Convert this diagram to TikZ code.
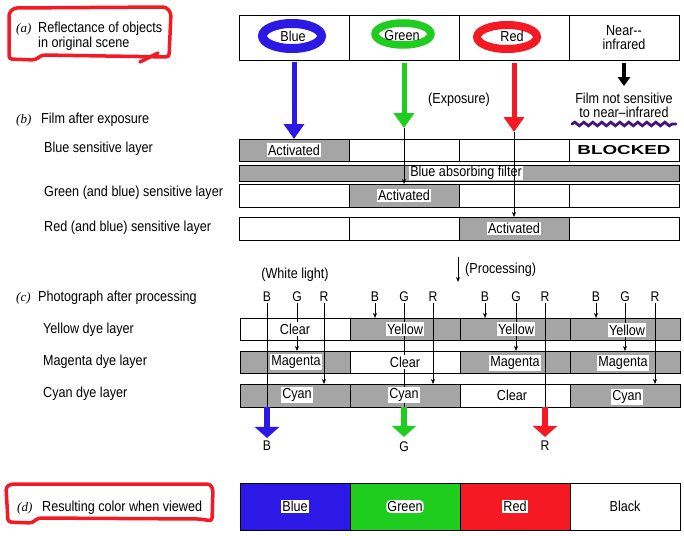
\documentclass[tikz,border=0pt]{standalone}
\usepackage{fontspec}
\setmainfont{Liberation Sans}[FakeStretch=0.87]
\newfontfamily\serifit{Liberation Serif}
\newfontfamily\blkfont{Liberation Sans}
\usetikzlibrary{arrows.meta,decorations.pathmorphing,shapes.geometric}
\definecolor{hblue}{RGB}{45,25,230}
\definecolor{hgreen}{RGB}{30,205,30}
\definecolor{hred}{RGB}{245,25,35}
\definecolor{hpurple}{RGB}{70,20,120}
\definecolor{hshade}{RGB}{165,165,165}
\begin{document}
\begin{tikzpicture}[x=1pt,y=-1pt,
  every node/.style={font=\fontsize{14.5}{14.5}\selectfont},
  cell/.style={draw, line width=0.8pt, inner sep=0pt, outer sep=0pt, anchor=north west, minimum width=110pt},
  shaded/.style={fill=hshade},
  lab/.style={fill=white, inner sep=1.2pt},
  ltext/.style={anchor=west, inner sep=0pt},
  tag/.style={font=\serifit\itshape\fontsize{13}{14}\selectfont, anchor=west, inner sep=0pt},
  ray/.style={line width=0.7pt, -{Stealth[length=5pt,width=4pt]}},
  rayplain/.style={line width=0.7pt},
  fat/.style={line width=5pt, -{Triangle[length=15pt,width=20pt]}},
  fatout/.style={line width=5.5pt, -{Triangle[length=11pt,width=24pt]}},
  fatk/.style={line width=3.2pt, -{Triangle[length=9pt,width=12pt]}},
  hand/.style={line width=3.5pt, line join=round, line cap=round, rounded corners=3pt},
  oval/.style={ellipse, inner sep=0pt},
  bgr/.style={inner sep=1pt, font=\fontsize{14}{14}\selectfont}
]
\useasboundingbox (0,0) rectangle (684,535);

% ---------- (a)
\draw[hand, hred] (9,13) -- (14,8) -- (166,7) -- (171,13) -- (169,57) -- (42,55) -- (35,60) -- (9,59) -- cycle;
\draw[hand, hred] (140,62) -- (158,53);
\node[tag] (ta) at (16,29) {(a)};
\node[ltext, align=left, font=\fontsize{14.5}{15}\selectfont] (la) at (38,36.5) {Reflectance of objects\\in original scene};

\node[cell, minimum height=45pt] (a1) at (239,15) {};
\node[cell, minimum height=45pt] (a2) at (349,15) {};
\node[cell, minimum height=45pt] (a3) at (459,15) {};
\node[cell, minimum height=45pt, align=center, font=\fontsize{14.5}{14}\selectfont] (a4) at (569,15) {Near-{}-\\infrared};

\node[oval, draw=hblue, line width=9pt, minimum width=59pt, minimum height=25pt] (ob) at (292,36) {};
\node (tb) at (293,36) {Blue};
\node[oval, draw=hgreen, line width=7.5pt, minimum width=56pt, minimum height=22pt] (og) at (403,34) {};
\node (tg) at (402,36) {Green};
\node[oval, draw=hred, line width=8pt, minimum width=60pt, minimum height=24pt] (orr) at (507,37) {};
\node (tr) at (512,36) {Red};

% ---------- (b)
\node[tag] (tbb) at (16,120) {(b)};
\node[ltext] (lb) at (41,120) {Film after exposure};
\node[ltext] (lb1) at (44,149) {Blue sensitive layer};
\node[ltext] (lb2) at (44,193) {Green (and blue) sensitive layer};
\node[ltext] (lb3) at (44,228) {Red (and blue) sensitive layer};

\node[cell, shaded, minimum height=22pt] (bb1) at (239,139) {};
\node[cell, minimum height=22pt] (bb2) at (349,139) {};
\node[cell, minimum height=22pt] (bb3) at (459,139) {};
\node[cell, minimum height=22pt] (bb4) at (569,139) {};
\node[cell, shaded, minimum height=16pt, minimum width=440pt] (filt) at (239,165) {};
\node[cell, minimum height=23pt] (bg1) at (239,184) {};
\node[cell, shaded, minimum height=23pt] (bg2) at (349,184) {};
\node[cell, minimum height=23pt] (bg3) at (459,184) {};
\node[cell, minimum height=23pt] (bg4) at (569,184) {};
\node[cell, minimum height=23pt] (br1) at (239,217) {};
\node[cell, minimum height=23pt] (br2) at (349,217) {};
\node[cell, shaded, minimum height=23pt] (br3) at (459,217) {};
\node[cell, minimum height=23pt] (br4) at (569,217) {};

\node[lab] (lact1) at (bb1.center) {Activated};
\node[lab, inner ysep=0.5pt] (lfilt) at (466,173) {Blue absorbing filter};
\node[lab] (lact2) at (bg2.center) {Activated};
\node[lab] (lact3) at (br3.center) {Activated};
\node[font=\blkfont\bfseries\fontsize{13}{13}\selectfont] (blk) at (bb4.center) {\scalebox{1.45}[1]{BLOCKED}};

\coordinate (gk) at (404,128);
\coordinate (rk) at (514,132);
\draw[fat, hblue] ([yshift=-2pt]a1.south) -- (bb1.north);
\draw[fat, hgreen] ([yshift=-3pt]a2.south) -- (gk);
\draw[ray] (gk) -- (bg2.north);
\draw[fat, hred] ([yshift=-3pt]a3.south) -- (rk);
\draw[ray] (rk) -- (br3.north);

\node[align=center, font=\fontsize{14.5}{14}\selectfont] (nir) at (624,105) {Film not sensitive\\to near–infrared};
\draw[fatk] ([yshift=-3pt]a4.south) -- ([yshift=3pt]nir.north);
\coordinate (w1) at (572,124);
\coordinate (w2) at (676,124);
\draw[hpurple, line width=2.8pt, line cap=round, decorate, decoration={snake, amplitude=1.8pt, segment length=9pt}] (w1) -- (w2);
\node (expo) at (459,100) {(Exposure)};

% ---------- (c)
\coordinate (ps) at (458,257);
\coordinate (pe) at (458,282);
\draw[ray] (ps) -- (pe);
\node[ltext] (proc) at (465,270) {(Processing)};
\node (wl) at (295,275) {(White light)};

\node[tag] (tc) at (16,298) {(c)};
\node[ltext] (lc) at (38,298) {Photograph after processing};
\node[ltext] (lc1) at (43,330) {Yellow dye layer};
\node[ltext] (lc2) at (43,362) {Magenta dye layer};
\node[ltext] (lc3) at (43,394) {Cyan dye layer};

\node[cell, minimum height=22pt] (cy1) at (240,318) {};
\node[cell, shaded, minimum height=22pt] (cy2) at (350,318) {};
\node[cell, shaded, minimum height=22pt] (cy3) at (460,318) {};
\node[cell, shaded, minimum height=22pt] (cy4) at (570,318) {};
\node[cell, shaded, minimum height=22pt] (cm1) at (240,351) {};
\node[cell, minimum height=22pt] (cm2) at (350,351) {};
\node[cell, shaded, minimum height=22pt] (cm3) at (460,351) {};
\node[cell, shaded, minimum height=22pt] (cm4) at (570,351) {};
\node[cell, shaded, minimum height=23pt] (cc1) at (240,384) {};
\node[cell, shaded, minimum height=23pt] (cc2) at (350,384) {};
\node[cell, minimum height=23pt] (cc3) at (460,384) {};
\node[cell, shaded, minimum height=23pt] (cc4) at (570,384) {};

\foreach \n/\x/\t in {B1/267/B,G1/297/G,R1/324/R,B2/375/B,G2/404/G,R2/433/R,B3/485/B,G3/516/G,R3/545/R,B4/596/B,G4/625/G,R4/655/R}{
  \node[bgr] (\n) at (\x,297) {\t};
}

% rays
\draw[rayplain] (B1.south) -- (B1 |- cc1.south);
\draw[ray] (G1.south) -- (G1 |- cm1.north);
\draw[ray] (R1.south) -- (R1 |- cc1.north);
\draw[ray] (B2.south) -- (B2 |- cy2.north);
\draw[rayplain] (G2.south) -- (G2 |- cc2.south);
\draw[ray] (R2.south) -- (R2 |- cc2.north);
\draw[ray] (B3.south) -- (B3 |- cy3.north);
\draw[ray] (G3.south) -- (G3 |- cm3.north);
\draw[rayplain] (R3.south) -- (R3 |- cc3.south);
\draw[ray] (B4.south) -- (B4 |- cy4.north);
\draw[ray] (G4.south) -- (G4 |- cm4.north);
\draw[ray] (R4.south) -- (R4 |- cc4.north);

\node[lab] (ly1) at (295,329) {Clear};
\node[lab] (ly2) at (405,329) {Yellow};
\node[lab] (ly3) at (516,329) {Yellow};
\node[lab] (ly4) at (627,330) {Yellow};
\node[lab] (lm1) at (296,362) {Magenta};
\node[lab] (lm2) at (405,362) {Clear};
\node[lab] (lm3) at (515,363) {Magenta};
\node[lab] (lm4) at (623,363) {Magenta};
\node[lab] (lq1) at (297,395) {Cyan};
\node[lab] (lq2) at (404,395) {Cyan};
\node[lab] (lq3) at (512,395) {Clear};
\node[lab] (lq4) at (627,397) {Cyan};

\node[bgr] (Bo) at (267,446) {B};
\node[bgr] (Go) at (404,447) {G};
\node[bgr] (Ro) at (545,446) {R};
\draw[fatout, hblue] (B1 |- cc1.south) -- ([yshift=2pt]Bo.north);
\draw[fatout, hgreen] (G2 |- cc2.south) -- ([yshift=4pt]Go.north);
\draw[fatout, hred] (R3 |- cc3.south) -- ([yshift=3pt]Ro.north);

% ---------- (d)
\draw[hand, hred] (6,487) -- (11,484) -- (210,484) -- (213,489) -- (212,521) -- (200,519) -- (38,518) -- (32,523) -- (8,522) -- cycle;
\node[tag] (td) at (17,508) {(d)};
\node[ltext] (ld) at (42,508) {Resulting color when viewed};

\node[cell, fill=hblue, minimum height=47pt] (d1) at (240,483) {};
\node[cell, fill=hgreen, minimum height=47pt] (d2) at (350,483) {};
\node[cell, fill=hred, minimum height=47pt] (d3) at (460,483) {};
\node[cell, minimum height=47pt] (d4) at (570,483) {Black};
\node[lab] (ld1) at (d1.center) {Blue};
\node[lab, rounded corners=4pt] (ld2) at (d2.center) {Green};
\node[lab] (ld3) at (d3.center) {Red};
\end{tikzpicture}
\end{document}
